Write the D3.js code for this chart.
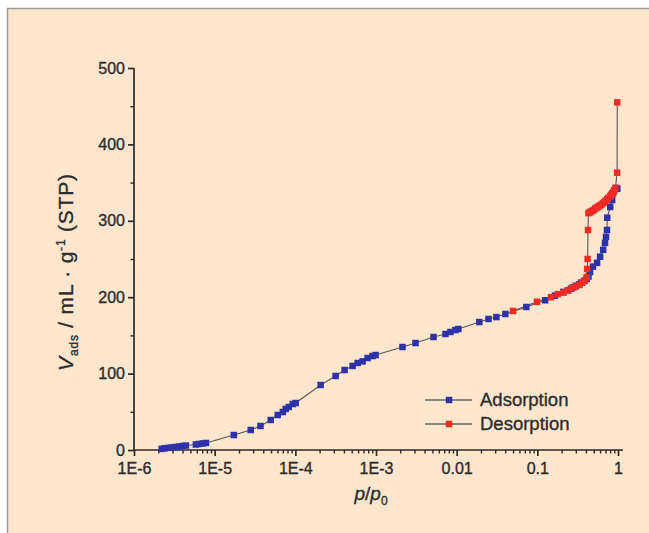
<!DOCTYPE html>
<html><head><meta charset="utf-8">
<script src="https://cdn.jsdelivr.net/npm/d3@7"></script>
<style>body{margin:0;background:#fff}svg{display:block;font-family:"Liberation Sans",Arial,sans-serif}</style>
</head><body><div id="c"></div>
<script>
const adsP = [2.2e-6,2.4e-6,2.65e-6,2.95e-6,3.25e-6,3.6e-6,4.0e-6,4.4e-6,5.85e-6,6.4e-6,7.1e-6,7.8e-6,
  1.73e-5,2.8e-5,3.7e-5,4.95e-5,6.05e-5,7.0e-5,7.6e-5,8.3e-5,9.3e-5,1.01e-4,
  2.06e-4,3.16e-4,4.08e-4,5.13e-4,5.92e-4,6.82e-4,7.87e-4,9.08e-4,9.89e-4,
  2.13e-3,3.09e-3,5.16e-3,7.27e-3,8.38e-3,9.66e-3,1.05e-2,1.91e-2,2.48e-2,3.11e-2,4.02e-2,7.31e-2,
  0.125,0.165,0.21,0.24,0.26,0.28,0.30,0.33,0.35,0.38,0.41,0.43,0.45,0.49,0.55,0.60,0.655,0.69,0.71,0.73,0.735,0.80,0.846,0.87,0.95,0.98];
const adsV = [1.5,2.2,2.8,3.4,3.9,4.5,5.2,5.8,7.2,7.9,8.6,9.2,
  19.6,26.2,31.4,39.3,45.8,49.7,53.7,56.3,60.2,61.5,
  85.1,96.9,104.7,110,113.9,116,120.4,123,124.3,
  134.8,140,147.9,151.8,154.5,157,158.4,167.5,171.5,174,178,187.2,
  196,202,207,209,211,213,215,217,219,221,224,227,233,240,245,253,262,271,279,288,304,318,327,336,343,342];
const desP = [0.98,0.975,0.93,0.90,0.88,0.85,0.82,0.80,0.76,0.73,0.70,0.67,0.65,0.62,0.60,0.58,0.56,0.54,0.52,0.50,0.48,0.46,0.45,0.43,
  0.425,0.42,0.415,0.41,0.39,0.36,0.33,0.30,0.27,0.24,0.21,0.18,0.148,0.099,0.05];
const desV = [455,363,343,340,338,336,334,332,330,328,326,324,323,321,320,319,318,317,316,314,313,312,311,310,
  288,250,237,226,222,219,216,214,212,209,206,204,200,194,182];
const yTicks = [0,100,200,300,400,500];
const yMinor = [50,150,250,350,450];
const xMajor = [1e-6,1e-5,1e-4,1e-3,0.01,0.1,1];
const xLabels = ["1E-6","1E-5","1E-4","1E-3","0.01","0.1","1"];
const seriesNames = ["Adsorption","Desorption"];
const colors = ["#2e32a8","#ee2b25"];

const W=649,H=533;
const svg=d3.select("#c").append("svg").attr("width",W).attr("height",H);
svg.append("rect").attr("x",7.5).attr("y",8.5).attr("width",W).attr("height",H).attr("fill","#fde6cc").attr("stroke","#9a9a9a").attr("stroke-width",1.5);

const x=d3.scaleLog().domain([1e-6,1]).range([134,618]);
const y=d3.scaleLinear().domain([0,500]).range([450,68]);
const axisCol="#2a2a2a", txtCol="#2c2c2c";
const styleText=sel=>sel.attr("fill",txtCol).attr("stroke",txtCol).attr("stroke-width",0.35);

// x axis
const xMinor=[];
for(let e=-6;e<0;e++) for(let k=2;k<=9;k++) xMinor.push(k*Math.pow(10,e));
const gx=svg.append("g").attr("transform","translate(0,450)");
gx.append("line").attr("x1",134).attr("x2",623).attr("stroke",axisCol).attr("stroke-width",1.7);
gx.append("g").call(d3.axisBottom(x).tickValues(xMinor).tickSize(3.5).tickFormat("")).call(g=>g.select(".domain").remove())
  .selectAll("line").attr("stroke",axisCol).attr("stroke-width",1.4);
const gxM=gx.append("g").call(d3.axisBottom(x).tickValues(xMajor).tickSize(6).tickPadding(7).tickFormat((d,i)=>xLabels[i]));
gxM.select(".domain").remove();
gxM.selectAll("line").attr("stroke",axisCol).attr("stroke-width",1.7);
gxM.selectAll("text").attr("font-size",16).attr("font-family","Liberation Sans, Arial").call(styleText);

// y axis
const gy=svg.append("g").attr("transform","translate(134,0)");
gy.append("line").attr("y1",68).attr("y2",450).attr("stroke",axisCol).attr("stroke-width",1.7);
gy.append("g").call(d3.axisLeft(y).tickValues(yMinor).tickSize(3.5).tickFormat("")).call(g=>g.select(".domain").remove())
  .selectAll("line").attr("stroke",axisCol).attr("stroke-width",1.4);
const gyM=gy.append("g").call(d3.axisLeft(y).tickValues(yTicks).tickSize(6).tickPadding(3));
gyM.select(".domain").remove();
gyM.selectAll("line").attr("stroke",axisCol).attr("stroke-width",1.7);
gyM.selectAll("text").attr("font-size",16).attr("font-family","Liberation Sans, Arial").call(styleText);

// axis titles
const xt=svg.append("text").attr("x",371).attr("y",500).attr("text-anchor","middle").attr("font-size",19).call(styleText);
xt.append("tspan").attr("font-style","italic").text("p");
xt.append("tspan").text("/");
xt.append("tspan").attr("font-style","italic").text("p");
xt.append("tspan").attr("font-size",12).attr("dy",5).text("0");

const yt=svg.append("text").attr("transform","translate(73,272) rotate(-90)").attr("text-anchor","middle").attr("font-size",21).attr("letter-spacing",0.8).call(styleText);
yt.append("tspan").attr("font-style","italic").text("V");
yt.append("tspan").attr("font-size",12).attr("dy",5).text("ads");
yt.append("tspan").attr("dy",-5).text(" / mL · g");
yt.append("tspan").attr("font-size",12).attr("dy",-8).text("-1");
yt.append("tspan").attr("dy",8).text(" (STP)");

// data
const ads=adsP.map((p,i)=>({p,v:adsV[i]}));
const des=desP.map((p,i)=>({p,v:desV[i]}));
const line=d3.line().x(d=>x(d.p)).y(d=>y(d.v));
[ads,des].forEach(s=>svg.append("path").datum(s).attr("d",line).attr("fill","none").attr("stroke","#555").attr("stroke-width",1.1));
const ms=6.5;
[ads,des].forEach((s,i)=>svg.append("g").selectAll("rect").data(s).join("rect")
  .attr("x",d=>x(d.p)-ms/2).attr("y",d=>y(d.v)-ms/2).attr("width",ms).attr("height",ms).attr("fill",colors[i]));

// legend
const lg=svg.append("g");
seriesNames.forEach((n,i)=>{
  const yy=400+i*24;
  lg.append("line").attr("x1",425).attr("x2",472).attr("y1",yy).attr("y2",yy).attr("stroke","#666").attr("stroke-width",1.4);
  lg.append("rect").attr("x",449-3.25).attr("y",yy-3.25).attr("width",6.5).attr("height",6.5).attr("fill",colors[i]);
  lg.append("text").attr("x",480).attr("y",yy+6).attr("font-size",18.5).call(styleText).text(n);
});
</script></body></html>
